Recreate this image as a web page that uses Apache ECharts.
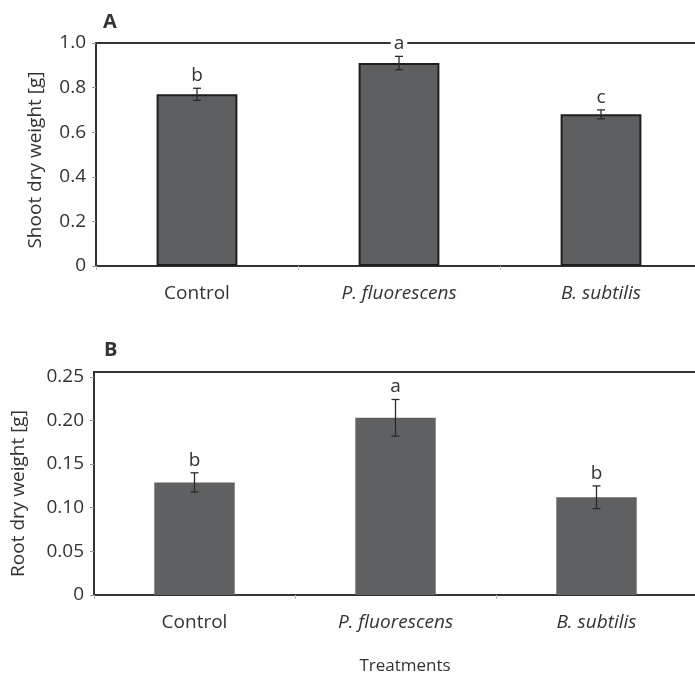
<!DOCTYPE html>
<html>
<head>
<meta charset="utf-8">
<script src="https://cdn.jsdelivr.net/npm/echarts@6/dist/echarts.min.js"></script>
<style>
html,body{margin:0;padding:0;background:#fff;}
#chart{width:695px;height:675px;}
</style>
</head>
<body>
<div id="chart"></div>
<script>
var categories = ['Control', 'P. fluorescens', 'B. subtilis'];
var shootMean = [0.77, 0.91, 0.68];
var shootErr = [0.027, 0.030, 0.020];
var shootLetters = ['b', 'a', 'c'];
var rootMean = [0.129, 0.203, 0.112];
var rootErr = [0.011, 0.021, 0.013];
var rootLetters = ['b', 'a', 'b'];
var shootTicks = [0, 0.2, 0.4, 0.6, 0.8, 1.0];
var rootTicks = [0, 0.05, 0.10, 0.15, 0.20, 0.25];

var FONT = '"Open Sans", "Liberation Sans", sans-serif';
var TXT = '#333';

var errLettersBySeries = {};

function errData(mean, err) {
  return mean.map(function (m, i) { return [i, m, err[i]]; });
}

function renderErr(params, api) {
  var i = api.value(0), m = api.value(1), e = api.value(2);
  var letter = errLettersBySeries[params.seriesIndex][params.dataIndex];
  var top = api.coord([i, m + e]);
  var bot = api.coord([i, m - e]);
  var x = top[0];
  var cap = 4;
  var st = { stroke: '#2a2a2a', lineWidth: 1.3 };
  return {
    type: 'group',
    children: [
      { type: 'line', shape: { x1: x, y1: top[1], x2: x, y2: bot[1] }, style: st },
      { type: 'line', shape: { x1: x - cap, y1: top[1], x2: x + cap, y2: top[1] }, style: st },
      { type: 'line', shape: { x1: x - cap, y1: bot[1], x2: x + cap, y2: bot[1] }, style: st },
      { type: 'text', z2: 10, style: {
          text: letter, x: x, y: top[1] - 3,
          align: 'center', verticalAlign: 'bottom',
          fill: TXT, font: '19px ' + FONT,
          backgroundColor: '#fff', padding: [0, 3, 0, 3]
      } }
    ]
  };
}

function catLabel(v) {
  return v === 'Control' ? v : '{i|' + v + '}';
}

var chart = echarts.init(document.getElementById('chart'), null, { renderer: 'canvas' });

var xAxisBase = function (gi) {
  return {
    type: 'category', gridIndex: gi, data: categories,
    axisLine: { lineStyle: { color: '#333', width: 2 } },
    axisTick: { show: true, length: 4, lineStyle: { color: '#bbb', width: 1 } },
    axisLabel: {
      margin: 18, color: TXT, fontFamily: FONT, fontSize: 19,
      formatter: catLabel,
      rich: { i: { fontStyle: 'italic', fontFamily: FONT, fontSize: 19, color: TXT } }
    },
    splitLine: { show: false }
  };
};

var option = {
  animation: false,
  backgroundColor: '#fff',
  title: [
    { text: 'A', left: 103, top: 12, padding: 0, textStyle: { fontFamily: FONT, fontSize: 20, fontWeight: 'bold', color: TXT } },
    { text: 'B', left: 104, top: 340, padding: 0, textStyle: { fontFamily: FONT, fontSize: 20, fontWeight: 'bold', color: TXT } }
  ],
  grid: [
    { left: 96, top: 43, width: 606, height: 223, show: true, borderColor: '#333', borderWidth: 2, backgroundColor: 'transparent', containLabel: false, outerBoundsMode: 'none' },
    { left: 94, top: 372, width: 603, height: 223, show: true, borderColor: '#333', borderWidth: 2, backgroundColor: 'transparent', containLabel: false, outerBoundsMode: 'none' }
  ],
  xAxis: [xAxisBase(0), xAxisBase(1)],
  yAxis: [
    {
      type: 'value', gridIndex: 0, min: shootTicks[0], max: shootTicks[shootTicks.length - 1], interval: 0.2,
      name: 'Shoot dry weight [g]', nameLocation: 'middle', nameGap: 51,
      nameTextStyle: { fontFamily: FONT, fontSize: 19, color: TXT, padding: [0, 11, 0, 0] },
      axisLine: { show: true, lineStyle: { color: '#333', width: 2 } },
      axisTick: { show: true, length: 4, lineStyle: { color: '#999' } },
      axisLabel: { margin: 10, color: TXT, fontFamily: FONT, fontSize: 19,
        formatter: function (v) { return v === 0 ? '0' : v.toFixed(1); } },
      splitLine: { show: false }
    },
    {
      type: 'value', gridIndex: 1, min: rootTicks[0], max: 0.2555, interval: 0.05,
      name: 'Root dry weight [g]', nameLocation: 'middle', nameGap: 66,
      nameTextStyle: { fontFamily: FONT, fontSize: 19, color: TXT, padding: [0, 20, 0, 0] },
      axisLine: { show: true, lineStyle: { color: '#333', width: 2 } },
      axisTick: { show: true, length: 4, lineStyle: { color: '#999' } },
      axisLabel: { margin: 10, color: TXT, fontFamily: FONT, fontSize: 19, showMaxLabel: false,
        formatter: function (v) {
          if (v === 0) return '0';
          if (Math.abs(v / 0.05 - Math.round(v / 0.05)) > 1e-6) return '';
          return v.toFixed(2);
        } },
      splitLine: { show: false }
    }
  ],
  graphic: [
    { type: 'text', x: 405, y: 666, style: { text: 'Treatments', align: 'center', verticalAlign: 'middle', fill: TXT, font: '17px ' + FONT } }
  ],
  series: [
    {
      type: 'bar', xAxisIndex: 0, yAxisIndex: 0, data: shootMean, barWidth: '40%',
      itemStyle: { color: '#5e5f61', borderColor: '#1e1e1e', borderWidth: 2 }
    },
    {
      type: 'custom', xAxisIndex: 0, yAxisIndex: 0, data: errData(shootMean, shootErr),
      renderItem: renderErr, z: 5
    },
    {
      type: 'bar', xAxisIndex: 1, yAxisIndex: 1, data: rootMean, barWidth: '40%',
      itemStyle: { color: '#5f6062' }
    },
    {
      type: 'custom', xAxisIndex: 1, yAxisIndex: 1, data: errData(rootMean, rootErr),
      renderItem: renderErr, z: 5
    }
  ]
};
errLettersBySeries[1] = shootLetters;
errLettersBySeries[3] = rootLetters;

chart.setOption(option);
</script>
</body>
</html>
